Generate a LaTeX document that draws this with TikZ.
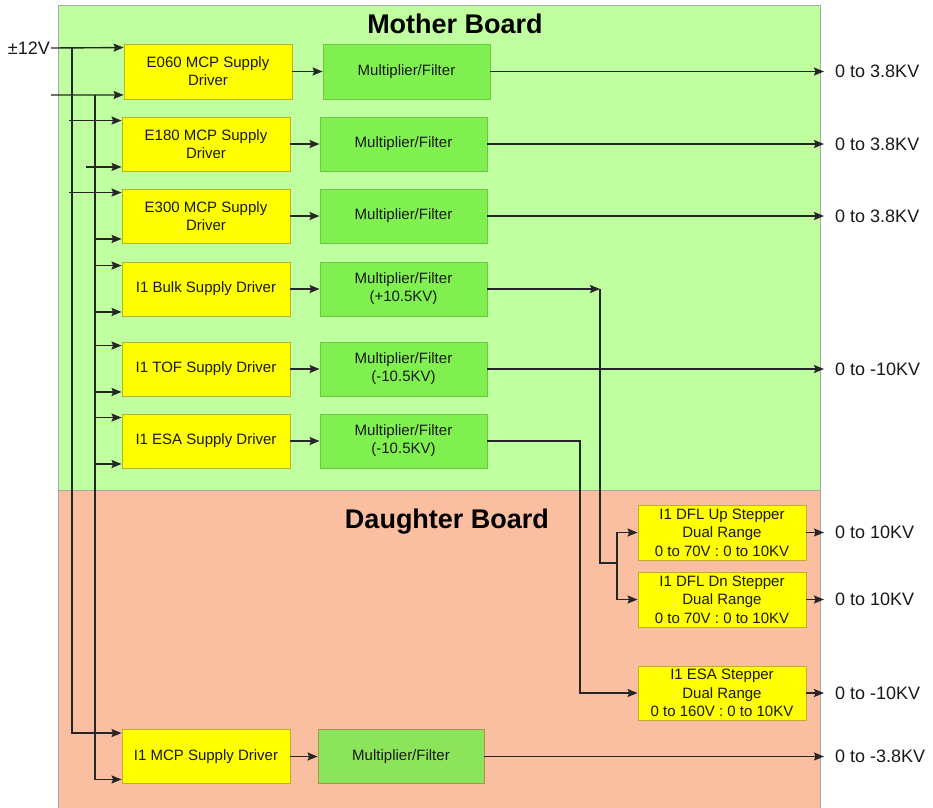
\documentclass[tikz,border=0pt]{standalone}
\usepackage{fontspec}
\setmainfont{Liberation Sans}
\usetikzlibrary{calc,arrows.meta}
\definecolor{mbg}{RGB}{192,255,160}
\definecolor{dbg}{RGB}{250,190,160}
\definecolor{ybox}{RGB}{255,255,0}
\definecolor{yedge}{RGB}{190,175,40}
\definecolor{gbox}{RGB}{128,240,80}
\definecolor{gedge}{RGB}{110,200,70}
\definecolor{g2box}{RGB}{140,228,90}
\definecolor{g2edge}{RGB}{160,150,80}
\definecolor{txt}{RGB}{25,25,25}
\tikzset{
  drvbox/.style={draw=yedge, fill=ybox, line width=0.9pt, minimum width=168pt, minimum height=54pt, inner sep=0pt, align=center, text=txt, font=\fontsize{15}{18}\selectfont},
  mulbox/.style={draw=gedge, fill=gbox, line width=0.9pt, minimum width=167pt, minimum height=54pt, inner sep=0pt, align=center, text=txt, font=\fontsize{15}{18}\selectfont},
  stpbox/.style={draw=yedge, fill=ybox, line width=0.9pt, minimum width=168pt, minimum height=55pt, inner sep=0pt, align=center, text=txt, font=\fontsize{15}{18.5}\selectfont},
  outlbl/.style={anchor=west, inner xsep=11pt, inner ysep=0pt, text=txt, font=\fontsize{18}{20}\selectfont},
  ttl/.style={font=\bfseries\fontsize{27}{30}\selectfont, text=black},
  arr/.style={-{Stealth[length=10pt,width=8pt,inset=1.5pt]}, line width=1.4pt, draw=black!85},
  wire/.style={line width=1.4pt, draw=black!85},
}
\begin{document}
\begin{tikzpicture}[x=1pt,y=-1pt]
\useasboundingbox (0,0) rectangle (933,807);
\fill[white] (0,0) rectangle (933,807);
% boards
\filldraw[fill=mbg, draw=black!35, line width=0.8pt] (58,5) rectangle (820,490);
\filldraw[fill=dbg, draw=black!35, line width=0.8pt] (58,490) rectangle (820,808);
\node[ttl] (tm) at (455,24) {Mother Board};
\node[ttl] (td) at (447,522) {Daughter Board};
% drivers
\node[drvbox, minimum height=55pt] (d1) at (208,71.5) {E060 MCP Supply\\Driver};
\node[drvbox] (d2) at (206,144) {E180 MCP Supply\\Driver};
\node[drvbox] (d3) at (206,216) {E300 MCP Supply\\Driver};
\node[drvbox] (d4) at (206,289) {I1 Bulk Supply Driver};
\node[drvbox] (d5) at (206,369) {I1 TOF Supply Driver};
\node[drvbox] (d6) at (206,441) {I1 ESA Supply Driver};
\node[drvbox] (d7) at (206,756.5) {I1 MCP Supply Driver};
% multipliers
\node[mulbox, minimum height=55pt] (m1) at (406.5,71.5) {Multiplier/Filter};
\node[mulbox] (m2) at (403.5,144) {Multiplier/Filter};
\node[mulbox] (m3) at (403.5,216) {Multiplier/Filter};
\node[mulbox] (m4) at (403.5,289) {Multiplier/Filter\\(+10.5KV)};
\node[mulbox] (m5) at (403.5,369) {Multiplier/Filter\\(-10.5KV)};
\node[mulbox] (m6) at (403.5,441) {Multiplier/Filter\\(-10.5KV)};
\node[mulbox, draw=g2edge, fill=g2box, minimum width=166pt] (m7) at (401,756.5) {Multiplier/Filter};
% steppers
\node[stpbox] (s1) at (722,532.5) {I1 DFL Up Stepper\\Dual Range\\0 to 70V : 0 to 10KV};
\node[stpbox] (s2) at (722,599.5) {I1 DFL Dn Stepper\\Dual Range\\0 to 70V : 0 to 10KV};
\node[stpbox, minimum height=54pt] (s3) at (722,693) {I1 ESA Stepper\\Dual Range\\0 to 160V : 0 to 10KV};
% output labels
\node[outlbl] (o1) at (m1.east -| 824,0) {0 to 3.8KV};
\node[outlbl] (o2) at (m2.east -| 824,0) {0 to 3.8KV};
\node[outlbl] (o3) at (m3.east -| 824,0) {0 to 3.8KV};
\node[outlbl] (o5) at (m5.east -| 824,0) {0 to -10KV};
\node[outlbl] (os1) at (s1.east -| 824,0) {0 to 10KV};
\node[outlbl] (os2) at (s2.east -| 824,0) {0 to 10KV};
\node[outlbl] (os3) at (s3.east -| 824,0) {0 to -10KV};
\node[outlbl] (o7) at (m7.east -| 824,0) {0 to -3.8KV};
% input label
\node[anchor=east, inner sep=1pt, text=txt, font=\fontsize{18}{20}\selectfont] (pm) at (51,48) {±12V};
\coordinate (in2) at (51,95);
\coordinate (busA) at (72,0);
\coordinate (busB) at (95,0);
% tap points on drivers
\foreach \d in {d1,d2,d3,d4,d5,d6,d7}{
  \coordinate (\d t) at ($(\d.north west)+(0,4)$);
  \coordinate (\d b) at ($(\d.south west)+(0,-4.5)$);
}
% supply bus A (+/-12V)
\draw[arr] (pm.east) -- (d1t);
\draw[arr] (d1t -| busA) -- (d7t -| busA) -- (d7t);
\draw[arr] ($(d2t -| busA)+(-3,0)$) -- (d2t);
\draw[arr] ($(d3t -| busA)+(-3,0)$) -- (d3t);
% supply bus B
\draw[arr] (in2) -- (d1b);
\draw[arr] (d1b -| busB) -- (d7b -| busB) -- (d7b);
\draw[arr] ($(d2b -| busB)+(-9,0)$) -- (d2b);
\draw[arr] (d3b -| busB) -- (d3b);
\draw[arr] (d4t -| busB) -- (d4t);
\draw[arr] (d4b -| busB) -- (d4b);
\draw[arr] (d5t -| busB) -- (d5t);
\draw[arr] (d5b -| busB) -- (d5b);
\draw[arr] (d6t -| busB) -- (d6t);
\draw[arr] (d6b -| busB) -- (d6b);
% driver -> multiplier
\foreach \i in {1,...,7}{
  \draw[arr] (d\i.east) -- (m\i.west);
}
% outputs
\draw[arr] (m1.east) -- (o1.west);
\draw[arr] (m2.east) -- (o2.west);
\draw[arr] (m3.east) -- (o3.west);
\draw[arr] (m5.east) -- (o5.west);
\draw[arr] (m7.east) -- (o7.west);
\draw[arr] (s1.east) -- (os1.west);
\draw[arr] (s2.east) -- (os2.west);
\draw[arr] (s3.east) -- (os3.west);
% bulk to DFL steppers
\coordinate (bk) at (m4.east -| 600,0);
\coordinate (br) at (617,563);
\draw[arr] (m4.east) -- (bk);
\draw[wire] (bk) |- (br);
\draw[arr] (br) |- (s1.west);
\draw[arr] (br) |- (s2.west);
% ESA to ESA stepper
\coordinate (ex) at (580,0);
\draw[arr] (m6.east) -- (m6.east -| ex) -- (s3.west -| ex) -- (s3.west);
\end{tikzpicture}
\end{document}
